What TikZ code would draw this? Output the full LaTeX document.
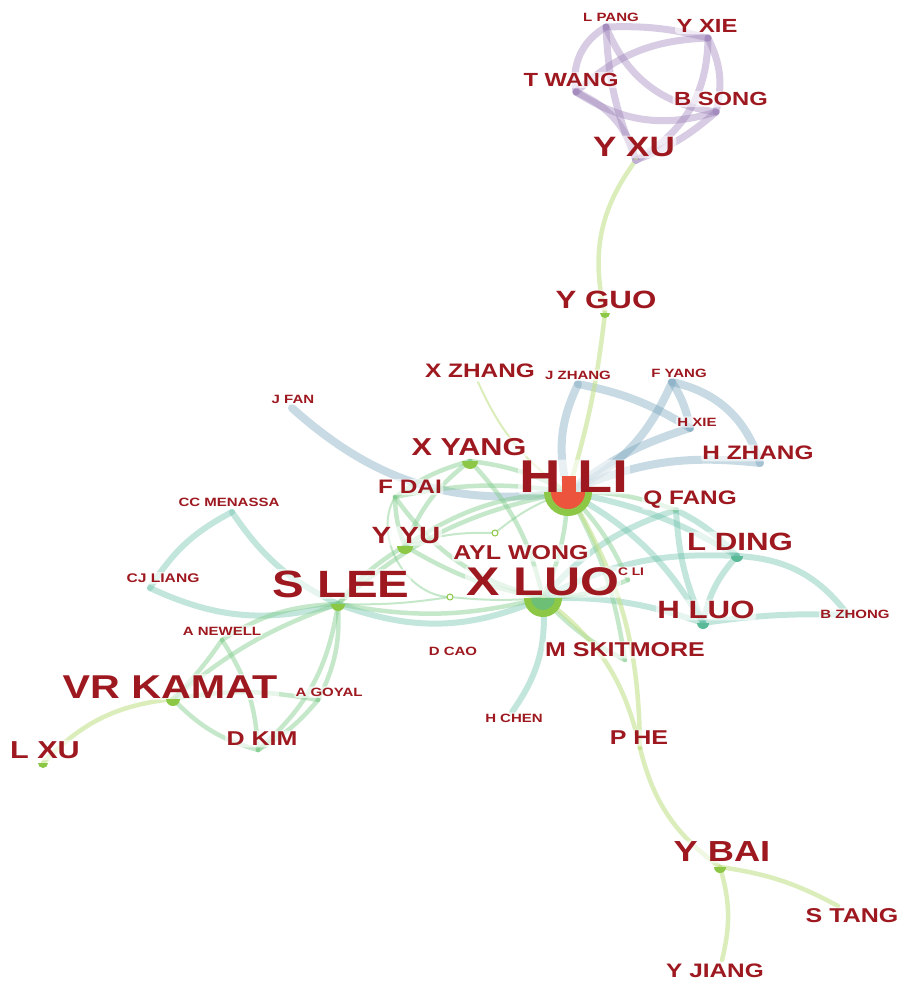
\documentclass[tikz,border=0pt]{standalone}
\usepackage{fontspec}
\setmainfont{Liberation Sans}
\usepackage{graphicx}

\definecolor{namered}{RGB}{158,24,32}
\definecolor{edgepurple}{RGB}{150,122,182}
\definecolor{edgelime}{RGB}{196,226,140}
\definecolor{edgegreen}{RGB}{128,204,140}
\definecolor{edgeteal}{RGB}{98,190,165}
\definecolor{edgeblue}{RGB}{112,158,185}
\definecolor{dotgreen}{RGB}{140,200,70}
\definecolor{dotteal}{RGB}{90,185,150}
\definecolor{dotred}{RGB}{236,84,62}

% author labels are stretched a little horizontally
\newcommand\wide[1]{\scalebox{1.25}[1]{#1}}

\tikzset{
  lbl/.style={text=namered, inner sep=1.5pt, anchor=center, fill=white,
              fill opacity=0.6, text opacity=1, rounded corners=3pt,
              font=\bfseries\fontsize{#1}{#1}\selectfont},
  ep/.style={draw=edgepurple, line width=7pt, opacity=0.38, line cap=round},
  ey/.style={draw=edgelime, line width=4.5pt, opacity=0.6, line cap=round},
  eg/.style={draw=edgegreen, line width=4.5pt, opacity=0.45, line cap=round},
  et/.style={draw=edgeteal, line width=6pt, opacity=0.38, line cap=round},
  eb/.style={draw=edgeblue, line width=8pt, opacity=0.38, line cap=round},
  thinline/.style={line width=2pt},
  smallnode/.style={draw=dotgreen, fill=white, line width=1pt},
}

% lower half of a node disc
\newcommand\halfdot[3]{\fill[#1] (#2) ++(#3,0) arc[start angle=0,end angle=180,radius=#3] -- cycle;}

\begin{document}
\begin{tikzpicture}[x=1pt,y=-1pt]
\useasboundingbox (0,0) rectangle (900,984);
\fill[white] (0,0) rectangle (900,984);

% ---------- node positions ----------
\coordinate (lpang) at (606,27);
\coordinate (yxie) at (708,38);
\coordinate (twang) at (576,92);
\coordinate (bsong) at (716,112);
\coordinate (yxu) at (636,160);
\coordinate (yguo) at (605,313);
\coordinate (xzhang) at (478,382);
\coordinate (jzhang) at (578,384);
\coordinate (fyang) at (672,382);
\coordinate (hxie) at (690,428);
\coordinate (hzhang) at (760,463);
\coordinate (jfan) at (292,408);
\coordinate (xyang) at (470,461);
\coordinate (hli) at (568,492);
\coordinate (fdai) at (395,497);
\coordinate (qfang) at (676,510);
\coordinate (ccmen) at (232,512);
\coordinate (yyu) at (405,546);
\coordinate (awong) at (510,563);
\coordinate (lding) at (737,556);
\coordinate (cjliang) at (150,588);
\coordinate (slee) at (338,604);
\coordinate (xluo) at (543,598);
\coordinate (cli) at (628,580);
\coordinate (hluo) at (703,623);
\coordinate (bzhong) at (848,615);
\coordinate (anewell) at (222,640);
\coordinate (dcao) at (453,660);
\coordinate (mskit) at (625,660);
\coordinate (vrkamat) at (173,699);
\coordinate (agoyal) at (318,700);
\coordinate (hchen) at (512,712);
\coordinate (dkim) at (258,750);
\coordinate (lxu) at (43,763);
\coordinate (phe) at (640,748);
\coordinate (ybai) at (720,867);
\coordinate (stang) at (838,906);
\coordinate (yjiang) at (722,960);
\coordinate (na) at (495,533);
\coordinate (nb) at (450,597);

% ---------- purple cluster ----------
\draw[ep] (lpang) to[bend left=8] (yxie);
\draw[ep] (lpang) to[bend right=35] (twang);
\draw[ep] (lpang) to[bend right=30] (bsong);
\draw[ep] (lpang) to[bend right=10] (yxu);
\draw[ep] (twang) to[bend left=20] (yxie);
\draw[ep] (twang) to[bend right=25] (bsong);
\draw[ep] (twang) to[bend left=25] (yxu);
\draw[ep] (yxie) to[bend left=20] (bsong);
\draw[ep] (yxie) to[bend left=30] (yxu);
\draw[ep] (bsong) to[bend left=10] (yxu);

% ---------- blue cluster ----------
\draw[eb] (jfan) to[bend right=25] (hli);
\draw[eb] (jzhang) to[bend right=20] (hli);
\draw[eb] (jzhang) to[bend left=10] (hxie);
\draw[eb] (fyang) to[bend left=30] (hzhang);
\draw[eb] (fyang) to[bend left=20] (hli);
\draw[eb] (hxie) to[bend right=10] (hli);
\draw[eb] (hzhang) to[bend right=15] (hli);
\draw[eb] (fyang) to[bend left=10] (hxie);

% ---------- teal links ----------
\draw[et] (ccmen) to[bend right=15] (cjliang);
\draw[et] (ccmen) to[bend right=15] (slee);
\draw[et] (cjliang) to[bend right=20] (slee);
\draw[et] (slee) to[bend right=22] (xluo);
\draw[et] (qfang) to[bend left=10] (lding);
\draw[et] (qfang) to[bend right=10] (hluo);
\draw[et] (lding) to[bend right=15] (hluo);
\draw[et] (lding) to[bend left=25] (bzhong);
\draw[et] (hluo) to[bend left=5] (bzhong);
\draw[et] (hli) to[bend left=10] (lding);
\draw[et] (hli) to[bend left=15] (hluo);
\draw[et] (xluo) to[bend left=15] (lding);
\draw[et] (xluo) to[bend left=10] (hluo);
\draw[et] (xluo) to[bend left=15] (qfang);
\draw[et] (xluo) to[bend left=20] (hchen);

% ---------- green links ----------
\draw[eg] (slee) to[bend right=15] (anewell);
\draw[eg] (slee) to[bend right=10] (vrkamat);
\draw[eg] (slee) to[bend left=20] (dkim);
\draw[eg] (slee) to[bend left=15] (agoyal);
\draw[eg] (anewell) to[bend left=5] (vrkamat);
\draw[eg] (anewell) to[bend left=15] (dkim);
\draw[eg] (vrkamat) to[bend right=15] (dkim);
\draw[eg] (agoyal) to[bend left=10] (dkim);
\draw[eg] (vrkamat) to[bend left=10] (agoyal);
\draw[eg] (slee) to[bend right=12] (xluo);
\draw[eg] (slee) to[bend left=15] (hli);
\draw[eg] (slee) to[bend left=10] (yyu);
\draw[eg] (xyang) to[bend left=10] (hli);
\draw[eg] (xyang) to[bend left=15] (xluo);
\draw[eg] (xyang) to[bend right=15] (yyu);
\draw[eg] (xyang) to[bend right=10] (fdai);
\draw[eg] (fdai) to[bend right=10] (yyu);
\draw[eg] (fdai) to[bend left=10] (hli);
\draw[eg] (fdai) to[bend right=20] (xluo);
\draw[eg] (yyu) to[bend left=15] (hli);
\draw[eg] (yyu) to[bend right=10] (xluo);
\draw[eg] (hli) to[bend left=10] (xluo);
\draw[eg] (hli) to[bend left=10] (qfang);
\draw[eg] (hli) to[bend left=10] (cli);
\draw[eg] (hli) to[bend left=10] (mskit);
\draw[eg] (xluo) to[bend right=10] (mskit);
\draw[eg] (xluo) to[bend right=10] (cli);
\draw[eg, thinline] (na) to[bend left=10] (hli);
\draw[eg, thinline] (na) to[bend right=10] (yyu);
\draw[eg, thinline] (nb) to[bend left=5] (slee);
\draw[eg, thinline] (nb) to[bend right=5] (xluo);
\draw[eg, thinline] (fdai) to[bend right=60] (nb);

% ---------- lime links ----------
\draw[ey] (yxu) to[bend right=25] (yguo);
\draw[ey] (yguo) to[bend left=5] (hli);
\draw[ey, thinline] (xzhang) to[bend right=15] (hli);
\draw[ey] (hli) to[bend left=15] (phe);
\draw[ey] (xluo) to[bend left=20] (phe);
\draw[ey] (phe) to[bend right=20] (ybai);
\draw[ey] (ybai) to[bend left=10] (stang);
\draw[ey] (ybai) to[bend left=15] (yjiang);
\draw[ey] (vrkamat) to[bend right=20] (lxu);

% ---------- author labels ----------
\node[lbl=12]   (l-lpang)   at (611,17)  {\wide{L PANG}};
\node[lbl=19]   (l-yxie)    at (707,26)  {\wide{Y XIE}};
\node[lbl=19]   (l-twang)   at (571,80)  {\wide{T WANG}};
\node[lbl=19]   (l-bsong)   at (721,99)  {\wide{B SONG}};
\node[lbl=28]   (l-yxu)     at (634,147) {\wide{Y XU}};
\node[lbl=25]   (l-yguo)    at (606,300) {\wide{Y GUO}};
\node[lbl=19.5] (l-xzhang)  at (480,371) {\wide{X ZHANG}};
\node[lbl=12]   (l-jzhang)  at (578,375) {\wide{J ZHANG}};
\node[lbl=12]   (l-fyang)   at (679,373) {\wide{F YANG}};
\node[lbl=12]   (l-hxie)    at (697,422) {\wide{H XIE}};
\node[lbl=19.5] (l-hzhang)  at (758,453) {\wide{H ZHANG}};
\node[lbl=12]   (l-jfan)    at (293,399) {\wide{J FAN}};
\node[lbl=24.5] (l-xyang)   at (469,447) {\wide{X YANG}};
\node[lbl=46]   (l-hli)     at (574,477) {\wide{H LI}};
\node[lbl=19.5] (l-fdai)    at (410,487) {\wide{F DAI}};
\node[lbl=19.5] (l-qfang)   at (690,500) {\wide{Q FANG}};
\node[lbl=12]   (l-ccmen)   at (229,502) {\wide{CC MENASSA}};
\node[lbl=23.5] (l-yyu)     at (406,536) {\wide{Y YU}};
\node[lbl=20]   (l-awong)   at (521,553) {\wide{AYL WONG}};
\node[lbl=25]   (l-lding)   at (740,542) {\wide{L DING}};
\node[lbl=12.5] (l-cjliang) at (163,578) {\wide{CJ LIANG}};
\node[lbl=38]   (l-slee)    at (341,584) {\wide{S LEE}};
\node[lbl=40]   (l-xluo)    at (543,582) {\wide{X LUO}};
\node[lbl=11, fill opacity=0.9] (l-cli) at (631,572) {\wide{C LI}};
\node[lbl=25]   (l-hluo)    at (706,610) {\wide{H LUO}};
\node[lbl=12]   (l-bzhong)  at (855,614) {\wide{B ZHONG}};
\node[lbl=12]   (l-anewell) at (222,631) {\wide{A NEWELL}};
\node[lbl=12]   (l-dcao)    at (453,651) {\wide{D CAO}};
\node[lbl=20]   (l-mskit)   at (625,650) {\wide{M SKITMORE}};
\node[lbl=33]   (l-vrkamat) at (170,687) {\wide{VR KAMAT}};
\node[lbl=12]   (l-agoyal)  at (329,692) {\wide{A GOYAL}};
\node[lbl=12]   (l-hchen)   at (514,718) {\wide{H CHEN}};
\node[lbl=20]   (l-dkim)    at (262,739) {\wide{D KIM}};
\node[lbl=24.5] (l-lxu)     at (45,750)  {\wide{L XU}};
\node[lbl=20]   (l-phe)     at (639,738) {\wide{P HE}};
\node[lbl=29]   (l-ybai)    at (722,852) {\wide{Y BAI}};
\node[lbl=20]   (l-stang)   at (852,916) {\wide{S TANG}};
\node[lbl=19.5] (l-yjiang)  at (715,971) {\wide{Y JIANG}};

% ---------- node discs ----------
\halfdot{edgepurple!60}{yxu}{4}
\halfdot{dotgreen}{yguo}{5}
\halfdot{dotgreen}{xyang}{8}
\halfdot{dotgreen}{hli}{24}
\halfdot{dotred}{hli}{17}
\fill[dotred] (562,476) rectangle (576,493);
\halfdot{dotgreen}{slee}{7}
\halfdot{dotgreen}{yyu}{8}
\halfdot{dotgreen}{xluo}{19}
\halfdot{dotteal!60!dotgreen}{xluo}{12}
\halfdot{dotteal}{lding}{6}
\halfdot{dotteal}{hluo}{6}
\halfdot{dotgreen}{vrkamat}{7}
\halfdot{dotgreen}{lxu}{5}
\halfdot{dotgreen}{ybai}{6}
\draw[smallnode] (na) circle[radius=3];
\draw[smallnode] (nb) circle[radius=3];
\end{tikzpicture}
\end{document}
